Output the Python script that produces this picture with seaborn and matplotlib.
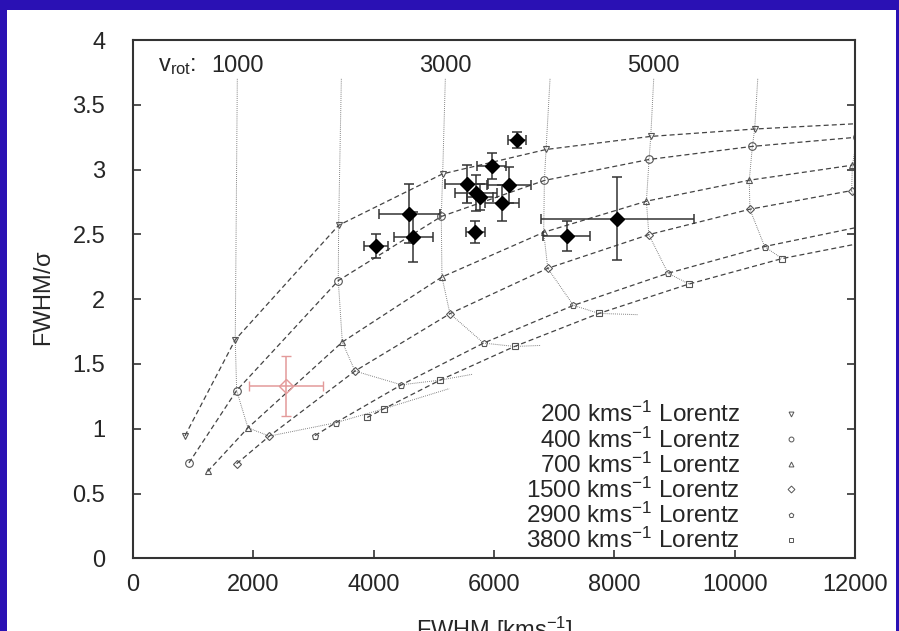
import numpy as np
import pandas as pd
import matplotlib
matplotlib.use("Agg")
import matplotlib.pyplot as plt
from matplotlib.lines import Line2D
from matplotlib.patches import Rectangle
import seaborn as sns

# model tracks: one point per v_rot = 0, 1000, ..., 7000 km/s
vrot_labels = [1000, 3000, 5000]
s200_x = [864, 1700, 3418, 5147, 6865, 8605, 10332, 12060]
s200_y = [0.945, 1.687, 2.570, 2.967, 3.155, 3.256, 3.313, 3.355]
s400_x = [930, 1723, 3412, 5124, 6837, 8577, 10294, 12040]
s400_y = [0.736, 1.295, 2.143, 2.638, 2.916, 3.078, 3.179, 3.250]
s700_x = [1241, 1911, 3479, 5135, 6826, 8533, 10242, 11955]
s700_y = [0.670, 1.007, 1.669, 2.171, 2.516, 2.756, 2.918, 3.034]
s1500_x = [1723, 2266, 3689, 5268, 6893, 8573, 10253, 11944]
s1500_y = [0.730, 0.943, 1.445, 1.888, 2.238, 2.498, 2.694, 2.838]
s2900_x = [3025, 3368, 4461, 5827, 7320, 8892, 10497, 12200]
s2900_y = [0.947, 1.046, 1.339, 1.661, 1.952, 2.200, 2.406, 2.570]
s3800_x = [3893, 4170, 5103, 6342, 7745, 9241, 10786, 12400]
s3800_y = [1.087, 1.154, 1.375, 1.635, 1.890, 2.117, 2.313, 2.460]

# constant v_rot curves: top start and tail end (v_rot = 1000 ... 7000)
top_x = [1734, 3463, 5191, 6931, 8654, 10383, 12110]
top_y = 3.70
tail_x = [5260, 5640, 6784, 8399, None, None, 12000]
tail_y = [1.310, 1.420, 1.643, 1.880, None, None, 2.700]

# measured objects
obs_x = [6377, 5961, 5545, 5700, 5767, 6249, 6138, 5689, 4592, 4659, 4039, 8049, 7208]
obs_y = [3.23, 3.03, 2.89, 2.82, 2.79, 2.88, 2.74, 2.52, 2.66, 2.48, 2.41, 2.62, 2.49]
obs_xerr = [150, 245, 360, 345, 220, 360, 280, 160, 507, 320, 200, 1270, 390]
obs_yerr = [0.06, 0.10, 0.145, 0.14, 0.10, 0.14, 0.14, 0.085, 0.23, 0.19, 0.095, 0.32, 0.115]
red_x, red_y, red_xerr, red_yerr = 2543, 1.332, 610, 0.233

sns.set_style("ticks")
plt.rcParams["font.family"] = ["Liberation Sans", "DejaVu Sans"]
plt.rcParams["mathtext.fontset"] = "custom"
plt.rcParams["mathtext.rm"] = "Liberation Sans"
plt.rcParams["mathtext.it"] = "Liberation Sans"

fs = 17
fig = plt.figure(figsize=(8.99, 6.31), dpi=100, facecolor="#2a11b4")
fig.patches.append(Rectangle((7 / 899, 0), 889 / 899, 621 / 631, transform=fig.transFigure,
                             facecolor="white", edgecolor="none", zorder=-10))
ax = fig.add_axes([0.1479, 0.1152, 0.8032, 0.8214])
ax.set_facecolor("white")

series = [
    ("200", s200_x, s200_y, "v"),
    ("400", s400_x, s400_y, "o"),
    ("700", s700_x, s700_y, "^"),
    ("1500", s1500_x, s1500_y, "D"),
    ("2900", s2900_x, s2900_y, "p"),
    ("3800", s3800_x, s3800_y, "s"),
]
msizes = {"v": 5, "o": 5.5, "^": 5, "D": 4, "p": 5, "s": 5}

for name, xs, ys, m in series:
    df = pd.DataFrame({"x": xs, "y": ys})
    sns.lineplot(data=df, x="x", y="y", ax=ax, estimator=None, sort=False,
                 color="#444444", lw=0.9, dashes=False, marker=m, markersize=msizes[m],
                 markerfacecolor="none", markeredgecolor="#555555", markeredgewidth=0.8)
    ax.lines[-1].set_dashes((4, 2.5))

# dotted constant-v_rot tracks
for k in range(7):
    cx = [top_x[k]] + [s[1][k + 1] for s in series]
    cy = [top_y] + [s[2][k + 1] for s in series]
    if tail_x[k] is not None:
        cx.append(tail_x[k])
        cy.append(tail_y[k])
    dfc = pd.DataFrame({"x": cx, "y": cy})
    sns.lineplot(data=dfc, x="x", y="y", ax=ax, estimator=None, sort=False,
                 color="#555555", lw=0.7)
    ax.lines[-1].set_dashes((0.7, 1.3))

ax.errorbar(obs_x, obs_y, xerr=obs_xerr, yerr=obs_yerr, fmt="D", color="black",
            markersize=7.5, ecolor="#333333", elinewidth=1.1, capsize=3.5, capthick=1.1, zorder=5)
ax.errorbar([red_x], [red_y], xerr=[red_xerr], yerr=[red_yerr], fmt="D", color="#e39a9a",
            markerfacecolor="none", markersize=7.5, elinewidth=1.1, capsize=3.5, zorder=4)

ax.text(415, 3.80, r"v$_{\rm rot}$:", fontsize=fs, va="center", ha="left")
for v, xx in zip(vrot_labels, [top_x[0], top_x[2], top_x[4]]):
    ax.text(xx, 3.80, str(v), fontsize=fs, va="center", ha="center")

ax.set_xlim(0, 12000)
ax.set_ylim(0, 4)
ax.set_xticks([0, 2000, 4000, 6000, 8000, 10000, 12000])
ax.set_yticks([0, 0.5, 1, 1.5, 2, 2.5, 3, 3.5, 4])
ax.set_yticklabels(["0", "0.5", "1", "1.5", "2", "2.5", "3", "3.5", "4"])
ax.tick_params(axis="y", which="both", direction="in", length=6, width=1.2, right=True,
               labelsize=fs, pad=20, color="#333333")
ax.tick_params(axis="x", which="both", direction="in", length=6, width=1.2, top=False,
               labelsize=fs, pad=11, color="#333333")
for sp in ax.spines.values():
    sp.set_color("#333333")
    sp.set_linewidth(1.5)

ax.set_xlabel(r"FWHM [kms$^{-1}$]", fontsize=fs, labelpad=14)
ax.set_ylabel(r"FWHM/$\sigma$", fontsize=fs, labelpad=12)

handles = [Line2D([], [], ls="none", marker=m, markersize=3.5, markerfacecolor="none",
                  markeredgecolor="#555555", markeredgewidth=0.7) for _, _, _, m in series]
labels = [name + r" kms$^{-1}$ Lorentz" for name, _, _, _ in series]
ax.legend(handles, labels, loc="lower right", bbox_to_anchor=(0.972, -0.028), frameon=False,
          fontsize=17.5, markerfirst=False, handletextpad=1.1, labelspacing=0.0,
          borderpad=0.3, handlelength=2)

fig.savefig("out.png", dpi=100, facecolor=fig.get_facecolor())
